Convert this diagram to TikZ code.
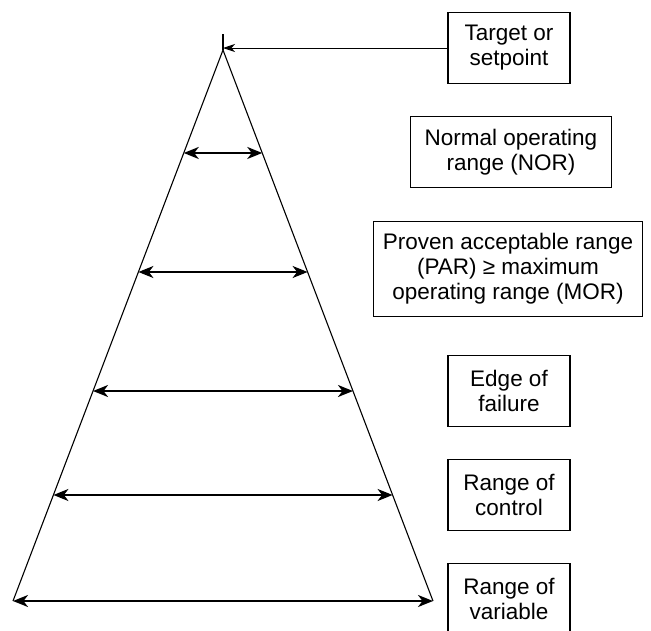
\documentclass[tikz,border=0pt]{standalone}
\usepackage{fontspec}
\setmainfont{Liberation Sans}
\usetikzlibrary{arrows.meta,calc}
\begin{document}
\begin{tikzpicture}[x=1pt,y=-1pt,
  lbox/.style={draw,line width=1.1pt,align=center,inner sep=0pt,
    minimum height=71pt,font=\fontsize{22.5}{25}\selectfont},
  edgeline/.style={line width=1.1pt},
  rangearrow/.style={line width=2pt,{Stealth[length=15pt,width=12pt,inset=4.5pt]}-{Stealth[length=15pt,width=12pt,inset=4.5pt]}},
  ptr/.style={line width=0.9pt,-{Stealth[length=12pt,width=8pt,inset=3.5pt]}}]
\useasboundingbox (0,0) rectangle (651,630);
\clip (0,0) rectangle (651,630);
% triangle
\coordinate (A) at (223,50);
\coordinate (T) at (223,34);
\coordinate (BL) at (13,601);
\coordinate (BR) at (433,601);
\draw[edgeline] (BL) -- (A) -- (BR);
\draw[edgeline] (A) -- (T);
% range arrow ends
\foreach \n/\t in {1/0.1869,2/0.4029,3/0.6189,4/0.8076}{
  \coordinate (L\n) at ($(A)!\t!(BL)$);
  \coordinate (R\n) at ($(A)!\t!(BR)$);
}
\draw[rangearrow] (L1) -- (R1);
\draw[rangearrow] (L2) -- (R2);
\draw[rangearrow] (L3) -- (R3);
\draw[rangearrow] (L4) -- (R4);
\draw[rangearrow] (BL) -- (BR);
% boxes
\node[lbox,minimum width=122pt] (target) at (509,48) {Target or\\setpoint};
\node[lbox,minimum width=201pt] (nor) at (511,152) {Normal operating\\range (NOR)};
\node[lbox,minimum width=269pt,minimum height=95pt] (par) at (508,269) {Proven acceptable range\\(PAR) ≥ maximum\\operating range (MOR)};
\node[lbox,minimum width=122pt] (edge) at (509,391) {Edge of\\failure};
\node[lbox,minimum width=122pt] (ctrl) at (509,495) {Range of\\control};
\node[lbox,minimum width=122pt] (var) at (509,599) {Range of\\variable};
% pointer to setpoint
\draw[ptr] (target.west) -- (target.west -| A);
\end{tikzpicture}
\end{document}
